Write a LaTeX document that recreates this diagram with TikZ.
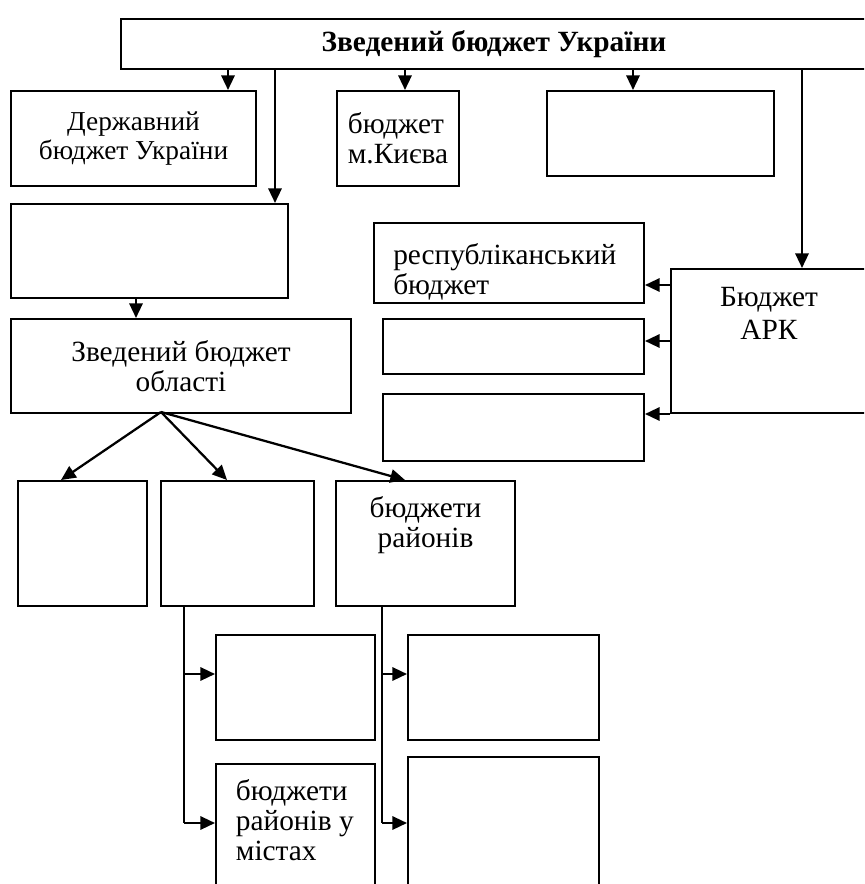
\documentclass[tikz,border=0pt]{standalone}
\usepackage{fontspec}
\setmainfont{Liberation Serif}
\usetikzlibrary{arrows.meta,positioning}

\tikzset{
  blk/.style 2 args={draw, line width=1.5pt, inner sep=0pt, align=center, anchor=north west,
    minimum width=#1*0.75pt, minimum height=#2*0.75pt},
  txt/.style={inner sep=0pt},
  arr/.style={line width=1.7pt, -{Triangle[length=11pt,width=10pt]}},
  ln/.style={line width=1.7pt}
}

\begin{document}
\begin{tikzpicture}[x=0.75pt,y=-0.75pt,font=\fontsize{22}{22.5}\selectfont]
    \useasboundingbox (0,0) rectangle (864,884);
    \clip (0,0) rectangle (864,884);

    % top level
    \node[blk={746}{50}, font=\fontsize{22}{22.5}\selectfont\bfseries] (top) at (120,18) {Зведений бюджет України};

    % first row
    \node[blk={245}{95}, font=\fontsize{20.5}{21.5}\selectfont] (derzh) at (10,90) {Державний\\бюджет України};
    \node[blk={122}{95}, align=left] (kyiv) at (336,90) {бюджет\\м.Києва};
    \node[blk={227}{85}] (empty1) at (546,90) {};

    \node[blk={277}{94}] (mid) at (10,203) {};
    \node[blk={340}{94}] (obl) at (10,318) {Зведений бюджет\\області};

    % ARK
    \node[blk={196}{144}] (ark) at (670,268) {};
    \node[txt, below=14pt of ark.north, align=center] (arktxt) {Бюджет\\[2.5pt]АРК};
    \node[blk={270}{80}] (resp) at (373,222) {};
    \node[txt, below right=16pt and 15pt of resp.north west, align=left] (resptxt) {республіканський\\бюджет};
    \node[blk={261}{55}] (arka) at (382,318) {};
    \node[blk={261}{67}] (arkb) at (382,393) {};

    % lower level
    \node[blk={129}{125}] (la) at (17,480) {};
    \node[blk={153}{125}] (lb) at (160,480) {};
    \node[blk={179}{125}] (lc) at (335,480) {};
    \node[txt, below=12pt of lc.north, align=center] (lctxt) {бюджети\\районів};

    \node[blk={159}{105}] (ld) at (215,634) {};
    \node[blk={159}{160}] (le) at (215,763) {};
    \node[txt, below right=12pt and 15.5pt of le.north west, align=left] (letxt) {бюджети\\районів у\\містах};
    \node[blk={191}{105}] (lf) at (407,634) {};
    \node[blk={191}{170}] (lg) at (407,756) {};

    % arrows from the top
    \draw[arr] (top.south -| 228,0) -- (derzh.north -| 228,0);
    \draw[arr] (top.south -| 275,0) -- (mid.north -| 275,0);
    \draw[arr] (top.south -| 405,0) -- (kyiv.north -| 405,0);
    \draw[arr] (top.south -| 633,0) -- (empty1.north -| 633,0);
    \draw[arr] (top.south -| 802,0) -- (ark.north -| 802,0);
    \draw[arr] (mid.south -| 136,0) -- (obl.north -| 136,0);

    % ARK arrows
    \draw[arr] (ark.west |- 0,285) -- (resp.east |- 0,285);
    \draw[arr] (ark.west |- 0,341) -- (arka.east |- 0,341);
    \draw[arr] (ark.south west) -- (arkb.east |- ark.south west);

    % fan
    \coordinate (fan) at (161,412);
    \draw[arr] (fan) -- (la.north -| 61,0);
    \draw[arr] (fan) -- (lb.north -| 227,0);
    \draw[arr] (fan) -- (lc.north -| 405,0);

    % branches
    \coordinate (lbend) at (184,823);
    \draw[ln] (lb.south -| lbend) -- (lbend);
    \draw[arr] (lbend |- 0,674) -- (ld.west |- 0,674);
    \draw[arr] (lbend) -- (le.west |- lbend);
    \coordinate (rbend) at (382,823);
    \draw[ln] (lc.south -| rbend) -- (rbend);
    \draw[arr] (rbend |- 0,674) -- (lf.west |- 0,674);
    \draw[arr] (rbend) -- (lg.west |- rbend);
\end{tikzpicture}
\end{document}
